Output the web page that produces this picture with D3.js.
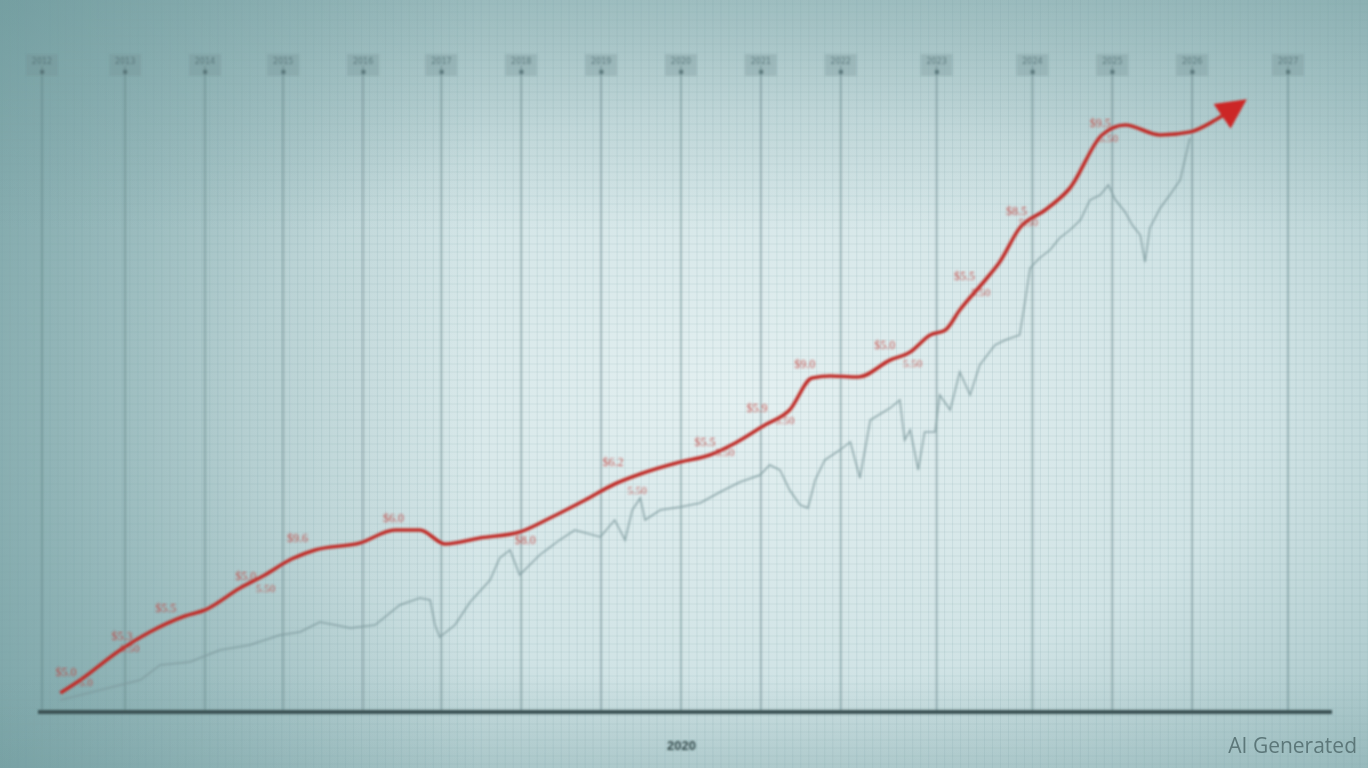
<!DOCTYPE html>
<html><head><meta charset="utf-8">
<script src="https://cdn.jsdelivr.net/npm/d3@7"></script>
<style>html,body{margin:0;padding:0;overflow:hidden;background:#b9d2d4}</style>
</head><body><svg id="c" width="1368" height="768"></svg>
<script>
// ---- data ----
const gridYears = [2012, 2013.04, 2014.04, 2015.02, 2016.02, 2017, 2018, 2019, 2020, 2021, 2022, 2023.2, 2024.4, 2025.4, 2026.4, 2027.6];
const topLabels = ["2012","2013","2014","2015","2016","2017","2018","2019","2020","2021","2022","2023","2024","2025","2026","2027"];
const axisTicks = [2020];
const axisTickLabels = ["2020"];

const redYears = [2012.23,2012.48,2012.98,2013.35,2013.79,2014.04,2014.48,2014.79,2015.10,2015.42,2015.98,2016.42,2016.73,2017.05,2017.48,2017.98,2018.36,2018.80,2019.17,2019.49,2019.99,2020.36,2020.68,2021.05,2021.36,2021.64,2021.87,2022.22,2022.62,2022.87,2023.12,2023.31,2023.49,2023.81,2023.99,2024.24,2024.56,2024.87,2025.27,2025.56,2026.00,2026.37,2026.69,2026.96];
const redValues = [19,32,62,80,96,102,124,137,152,162,169,182,182,168,174,180,194,212,228,238,250,257,269,287,302,334,336,335,352,360,377,382,402,432,450,484,502,524,577,587,577,580,592,606];

const greyYears = [2012.23,2012.73,2013.23,2013.48,2013.85,2014.23,2014.60,2014.98,2015.23,2015.48,2015.86,2016.17,2016.48,2016.73,2016.86,2016.92,2016.98,2017.17,2017.36,2017.61,2017.73,2017.86,2017.98,2018.23,2018.48,2018.67,2018.99,2019.17,2019.30,2019.39,2019.49,2019.55,2019.74,2019.99,2020.24,2020.49,2020.74,2020.99,2021.11,2021.24,2021.36,2021.49,2021.59,2021.68,2021.80,2021.99,2022.12,2022.18,2022.24,2022.37,2022.62,2022.74,2022.80,2022.87,2022.97,2023.05,2023.18,2023.24,2023.37,2023.49,2023.62,2023.74,2023.93,2024.06,2024.24,2024.31,2024.37,2024.49,2024.62,2024.74,2024.87,2025.00,2025.12,2025.25,2025.35,2025.44,2025.56,2025.65,2025.75,2025.81,2025.87,2026.00,2026.12,2026.25,2026.37];
const greyValues = [12,22,32,47,50,62,67,77,80,90,84,87,107,114,112,87,75,87,110,132,154,162,137,157,172,182,175,192,172,202,214,192,202,205,209,220,230,237,247,242,222,207,204,232,252,262,270,252,234,292,304,312,272,282,242,280,280,317,302,340,317,347,367,372,377,412,444,454,462,474,482,492,512,517,527,512,500,487,477,450,484,504,517,532,574];

const noteYears = [2012.30,2013.00,2013.55,2014.55,2015.20,2016.40,2018.05,2019.15,2020.30,2020.95,2021.55,2022.55,2023.55,2024.20,2025.25];
const noteValues = [36,72,100,132,170,190,168,246,266,300,344,363,432,497,585];
const noteTexts = ["$5.0","$5.3","$5.5","$5.0","$9.6","$6.0","$8.0","$6.2","$5.5","$5.9","$9.0","$5.0","$5.5","$8.5","$9.5"];
const subYears = [2012.55,2013.10,2014.80,2019.45,2020.55,2021.30,2022.90,2023.75,2024.35,2025.35];
const subValues = [26,60,120,218,256,288,345,416,486,570];
const subTexts = ["5.0","9.50","5.50","5.50","5.50","5.50","5.50","5.50","5.50","5.50"];

// ---- chart ----
const W = 1368, H = 768;
const svg = d3.select("#c");
const x = d3.scaleLinear().domain([2012, 2028]).range([42, 1320]);
const y = d3.scaleLinear().domain([0, 600]).range([712, 112]);

const defs = svg.append("defs");
const rg = defs.append("radialGradient").attr("id","bg").attr("cx","0.55").attr("cy","0.52").attr("r","0.75");
rg.append("stop").attr("offset","0").attr("stop-color","#e4f0f1");
rg.append("stop").attr("offset","0.5").attr("stop-color","#d0e3e5");
rg.append("stop").attr("offset","1").attr("stop-color","#93b7ba");
const lg = defs.append("linearGradient").attr("id","lf").attr("x1","0").attr("x2","1").attr("y1","0").attr("y2","0");
lg.append("stop").attr("offset","0").attr("stop-color","#5f8f92").attr("stop-opacity",0.5);
lg.append("stop").attr("offset","0.35").attr("stop-color","#5f8f92").attr("stop-opacity",0);
const tg = defs.append("linearGradient").attr("id","tp").attr("x1","0").attr("x2","0").attr("y1","0").attr("y2","1");
tg.append("stop").attr("offset","0").attr("stop-color","#6d9799").attr("stop-opacity",0.35);
tg.append("stop").attr("offset","0.3").attr("stop-color","#6d9799").attr("stop-opacity",0);
tg.append("stop").attr("offset","0.88").attr("stop-color","#6d9799").attr("stop-opacity",0);
tg.append("stop").attr("offset","1").attr("stop-color","#6d9799").attr("stop-opacity",0.2);
const blur = defs.append("filter").attr("id","bl").attr("x","-5%").attr("y","-5%").attr("width","110%").attr("height","110%");
blur.append("feGaussianBlur").attr("stdDeviation",0.9);

svg.append("rect").attr("width",W).attr("height",H).attr("fill","url(#bg)");
svg.append("rect").attr("width",W).attr("height",H).attr("fill","url(#lf)");
svg.append("rect").attr("width",W).attr("height",H).attr("fill","url(#tp)");

// fine grid (minor)
const minorX = d3.range(2011.4, 2029.2, 0.1);
const minorY = d3.range(-100, 900, 8);
const fg = svg.append("g").attr("stroke","#7fa3a7").attr("stroke-opacity",0.16).attr("stroke-width",1);
fg.selectAll("line.vx").data(minorX).join("line").attr("class","vx")
  .attr("x1",d=>x(d)).attr("x2",d=>x(d)).attr("y1",0).attr("y2",H);
fg.selectAll("line.hy").data(minorY).join("line").attr("class","hy")
  .attr("y1",d=>y(d)).attr("y2",d=>y(d)).attr("x1",0).attr("x2",W);

const g = svg.append("g").attr("filter","url(#bl)");

// major vertical lines
g.selectAll("line.maj").data(gridYears).join("line").attr("class","maj")
  .attr("x1",d=>x(d)).attr("x2",d=>x(d)).attr("y1",66).attr("y2",y(0))
  .attr("stroke","#5d7c80").attr("stroke-opacity",0.5).attr("stroke-width",1.6);

// top label boxes
const tb = g.selectAll("g.tb").data(gridYears).join("g").attr("class","tb")
  .attr("transform",d=>`translate(${x(d)},66)`);
tb.append("rect").attr("x",-16).attr("y",-12).attr("width",32).attr("height",22)
  .attr("fill","#6f9093").attr("fill-opacity",0.3);
tb.append("text").text((d,i)=>topLabels[i]).attr("text-anchor","middle").attr("y",-2)
  .attr("font-family","DejaVu Sans").attr("font-size",8).attr("fill","#4f6d70").attr("fill-opacity",0.8);
tb.append("text").text("▪").attr("text-anchor","middle").attr("y",8)
  .attr("font-family","DejaVu Sans").attr("font-size",8).attr("fill","#4f6d70").attr("fill-opacity",0.8);

// grey line
const grey = greyYears.map((d,i)=>[d, greyValues[i]]);
g.append("path").datum(grey)
  .attr("d", d3.line().x(d=>x(d[0])).y(d=>y(d[1])))
  .attr("fill","none").attr("stroke","#7e9a9d").attr("stroke-width",1.5).attr("stroke-opacity",0.85);

// red line with arrow
defs.append("marker").attr("id","arr").attr("markerUnits","userSpaceOnUse")
  .attr("viewBox","0 0 10 10").attr("refX",6).attr("refY",5)
  .attr("markerWidth",34).attr("markerHeight",30).attr("orient","auto")
  .append("path").attr("d","M0,0 L10,5 L0,10 z").attr("fill","#cc2826");
const red = redYears.map((d,i)=>[d, redValues[i]]);
g.append("path").datum(red)
  .attr("d", d3.line().x(d=>x(d[0])).y(d=>y(d[1])).curve(d3.curveMonotoneX))
  .attr("fill","none").attr("stroke","#c02f2a").attr("stroke-width",3.6)
  .attr("stroke-linejoin","round").attr("marker-end","url(#arr)");

// annotations
g.selectAll("text.note").data(noteTexts).join("text").attr("class","note")
  .attr("x",(d,i)=>x(noteYears[i])).attr("y",(d,i)=>y(noteValues[i]))
  .attr("text-anchor","middle").attr("font-family","Liberation Serif").attr("font-size",12)
  .attr("fill","#c2413c").attr("fill-opacity",0.85).text(d=>d);
g.selectAll("text.sub").data(subTexts).join("text").attr("class","sub")
  .attr("x",(d,i)=>x(subYears[i])).attr("y",(d,i)=>y(subValues[i]))
  .attr("text-anchor","middle").attr("font-family","Liberation Serif").attr("font-size",11)
  .attr("fill","#c2413c").attr("fill-opacity",0.8).text(d=>d);

// x axis
const ax = g.append("g").attr("transform",`translate(0,${y(0)})`)
  .call(d3.axisBottom(x).tickValues(axisTicks).tickFormat((d,i)=>axisTickLabels[i]).tickSize(0).tickPadding(29));
ax.select(".domain").remove();
ax.append("line").attr("x1",38).attr("x2",1332).attr("y1",0).attr("y2",0)
  .attr("stroke","#3a5153").attr("stroke-width",4);
ax.selectAll(".tick text").attr("font-family","Liberation Sans").attr("font-size",13)
  .attr("font-weight","bold").attr("fill","#33484a");

svg.append("text").attr("x",1357).attr("y",753).attr("text-anchor","end")
  .attr("font-family","Open Sans").attr("font-size",21).attr("fill","#5c7779")
  .text("AI Generated");
</script></body></html>
